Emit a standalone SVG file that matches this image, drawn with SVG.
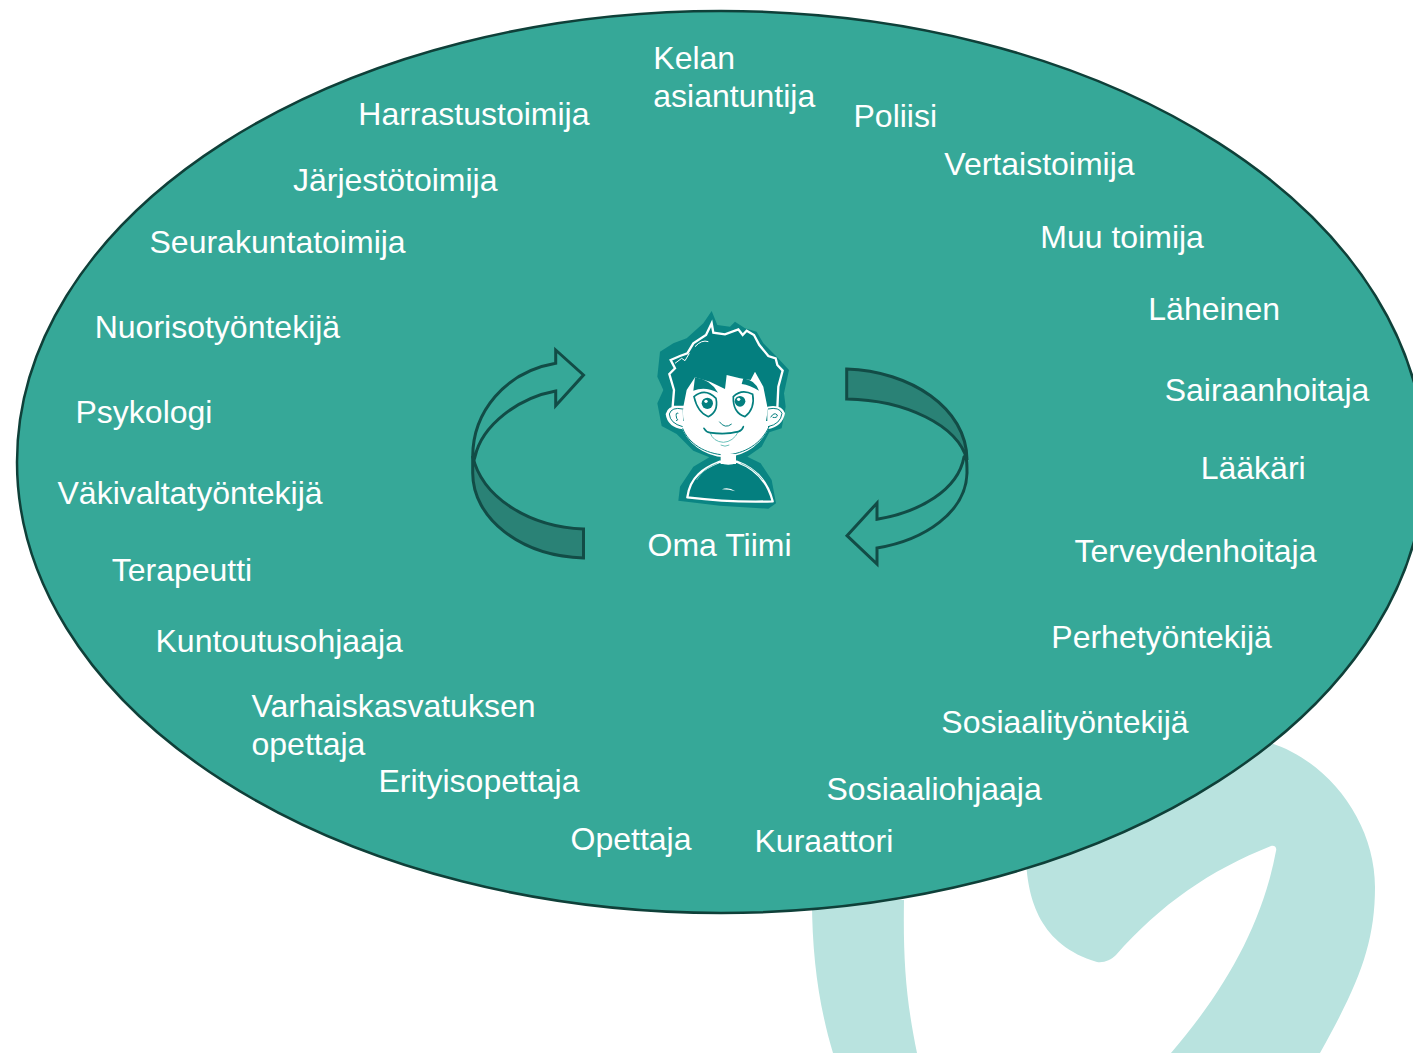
<svg xmlns="http://www.w3.org/2000/svg" width="1413" height="1053" viewBox="0 0 1413 1053">
<style>
text{font-family:"Liberation Sans",Arial,sans-serif;font-size:32px;fill:#fff}
.r{fill:#2a8276;stroke:#124c46;stroke-width:3;stroke-linejoin:miter}
.a{fill:#36a898;stroke:#124c46;stroke-width:3;stroke-linejoin:miter}
.h{fill:#047f7f}
.w{fill:#fff}
</style>
<rect width="1413" height="1053" fill="#fff"/>
<path id="bg-shape" fill="#b9e3df" d="M812 900C812 960 820 1010 833 1053L917 1053C906 1000 903 960 904 900ZM1026 860C1028 900 1040 945 1097 962C1104 963 1111 960 1116 955C1160 905 1210 870 1271 846C1275 845 1277 848 1276 851C1262 925 1225 990 1171 1053L1320 1053C1358 985 1375 945 1375 887C1375 820 1325 755 1260 740Z"/>
<ellipse id="team-ellipse" cx="721" cy="462" rx="704" ry="451" fill="#36a898" stroke="#0f4039" stroke-width="2.500"/>
<g id="connectors">
<g id="arrow-left">
<path class="r" d="M472.7 456C482 498 530 527 583.500 529V558C520 556 472.7 518 472.700 473Z"/>
<path class="a" d="M583.500 375L555.7 350V363.3C505 372 472.7 412 472.7 456.7C474 461 474 461 475 456.7C482 425 518 398 555.7 391V405.700Z"/>
</g>
<g id="arrow-right">
<path class="r" d="M846.7 369C910 371 967 408 967 460C958 425 905 400 846.7 399Z"/>
<path class="a" d="M847 535.700L877 503V519.3C920 512 958 490 964 457C965.500 455 967 455 967 473C966 512 925 540 877 548V564Z"/>
</g>
</g>
<g id="oma-tiimi">
<g id="boy" transform="translate(630 300) scale(.33333)">
<path fill="#0a8583" d="M245 33L262 75 300 80 315 65 345 85 380 95 400 130 440 170 477 210 462 280 467 320 455 385 418 397 395 440 352 470 392 490 425 540 438 610 415 626 270 617 145 602 150 560 190 500 238 472 190 452 140 402 95 378 82 310 100 270 82 230 90 155 130 130 170 115 220 70Z"/>
<path fill="#047f7f" stroke="#fff" stroke-width="7" stroke-linejoin="miter" stroke-miterlimit="6" d="M128 320L132 270 118 222 135 205 122 180 150 168 172 160 190 130 228 105 245 70 250 98 285 103 325 88 338 105 350 92 372 105 388 135 415 168 437 175 442 195 458 212 445 260 442 325Z"/>
<path fill="none" stroke="#fff" stroke-width="3" d="M135 190L155 175 165 182 178 160M195 140Q215 118 235 125"/>
<path class="w" d="M158 320Q115 312 107 342Q112 382 160 388ZM412 320Q455 312 465 340Q458 380 412 388Z"/>
<path fill="#fff" stroke="#fff" stroke-width="14" stroke-linejoin="round" d="M158 370C175 425 225 462 285 465C345 462 395 425 414 370Z"/>
<path class="w" d="M160 320C150 400 205 458 285 465C360 465 415 400 412 320L400 260 375 215 362 240 330 235 290 225 285 267 240 245 195 232 170 270Z"/>
<path fill="none" stroke="#047f7f" stroke-width="3" d="M158 385C175 430 225 462 285 465C345 462 395 430 418 378M158 327Q125 320 118 342Q120 370 158 380M414 327Q448 320 456 340Q452 372 414 380"/>
<path class="h" d="M195 232Q240 238 264 278Q225 258 190 272ZM340 235Q375 240 387 272Q360 255 335 252Z"/>
<path fill="#fff" stroke="#047f7f" stroke-width="5" d="M192 290Q225 262 258 295Q266 335 235 350Q203 338 192 290ZM310 290Q335 265 368 283Q376 325 345 350Q308 338 310 290Z"/>
<circle class="h" cx="232" cy="310" r="17"/><circle class="w" cx="228" cy="304" r="5"/>
<circle class="h" cx="330" cy="304" r="16"/><circle class="w" cx="326" cy="298" r="5"/>
<path fill="none" stroke="#047f7f" stroke-width="3" d="M268 365Q285 388 305 372"/>
<path fill="#fff" stroke="#6cc2bb" stroke-width="3" d="M240 398Q285 405 325 395Q310 425 280 427Q250 425 240 398Z"/>
<path fill="none" stroke="#047f7f" stroke-width="5" stroke-linecap="round" d="M222 385Q228 396 240 398Q285 405 325 395Q336 392 340 380"/>
<path fill="none" stroke="#6cc2bb" stroke-width="3" d="M272 435Q285 442 298 435"/>
<path fill="none" stroke="#047f7f" stroke-width="3" d="M145 340Q135 335 140 355Q148 360 138 362M422 352Q432 335 442 345Q442 355 428 352"/>
<path class="h" stroke="#fff" stroke-width="7" stroke-linejoin="round" d="M172 592C180 530 220 505 270 485Q295 497 320 485C375 505 412 540 428 604Q300 608 172 592Z"/>
<rect class="w" x="272" y="462" width="46" height="30"/>
<path fill="none" stroke="#6cc2bb" stroke-width="2.500" d="M200 540Q220 505 262 490M332 490Q372 505 398 540"/>
<path class="w" d="M276 568Q295 560 316 574Q298 568 276 568Z"/>
</g>
<text x="647.500" y="556">Oma Tiimi</text>
</g>
<g id="n-kelan"><text x="653.300" y="69">Kelan</text><text x="653.300" y="107">asiantuntija</text></g>
<g id="n-poliisi"><text x="853.500" y="127">Poliisi</text></g>
<g id="n-vertais"><text x="944.300" y="175">Vertaistoimija</text></g>
<g id="n-muu"><text x="1040.300" y="248">Muu toimija</text></g>
<g id="n-laheinen"><text x="1148.300" y="320">Läheinen</text></g>
<g id="n-sairaanhoitaja"><text x="1164.700" y="401">Sairaanhoitaja</text></g>
<g id="n-laakari"><text x="1200.700" y="479">Lääkäri</text></g>
<g id="n-terveydenhoitaja"><text x="1074.500" y="562">Terveydenhoitaja</text></g>
<g id="n-perhetyontekija"><text x="1051.300" y="648">Perhetyöntekijä</text></g>
<g id="n-sosiaalityontekija"><text x="941.300" y="733">Sosiaalityöntekijä</text></g>
<g id="n-sosiaaliohjaaja"><text x="826.500" y="800">Sosiaaliohjaaja</text></g>
<g id="n-kuraattori"><text x="754.500" y="852">Kuraattori</text></g>
<g id="n-opettaja"><text x="570.500" y="850">Opettaja</text></g>
<g id="n-erityisopettaja"><text x="378.500" y="792">Erityisopettaja</text></g>
<g id="n-varhaiskasvatus"><text x="251.500" y="717">Varhaiskasvatuksen</text><text x="251.500" y="755">opettaja</text></g>
<g id="n-kuntoutusohjaaja"><text x="155.500" y="652">Kuntoutusohjaaja</text></g>
<g id="n-terapeutti"><text x="111.700" y="581">Terapeutti</text></g>
<g id="n-vakivalta"><text x="57.500" y="504">Väkivaltatyöntekijä</text></g>
<g id="n-psykologi"><text x="75.500" y="423">Psykologi</text></g>
<g id="n-nuoriso"><text x="94.700" y="338">Nuorisotyöntekijä</text></g>
<g id="n-seurakunta"><text x="149.500" y="253">Seurakuntatoimija</text></g>
<g id="n-jarjesto"><text x="293" y="191">Järjestötoimija</text></g>
<g id="n-harrastus"><text x="358.300" y="125">Harrastustoimija</text></g>
</svg>
